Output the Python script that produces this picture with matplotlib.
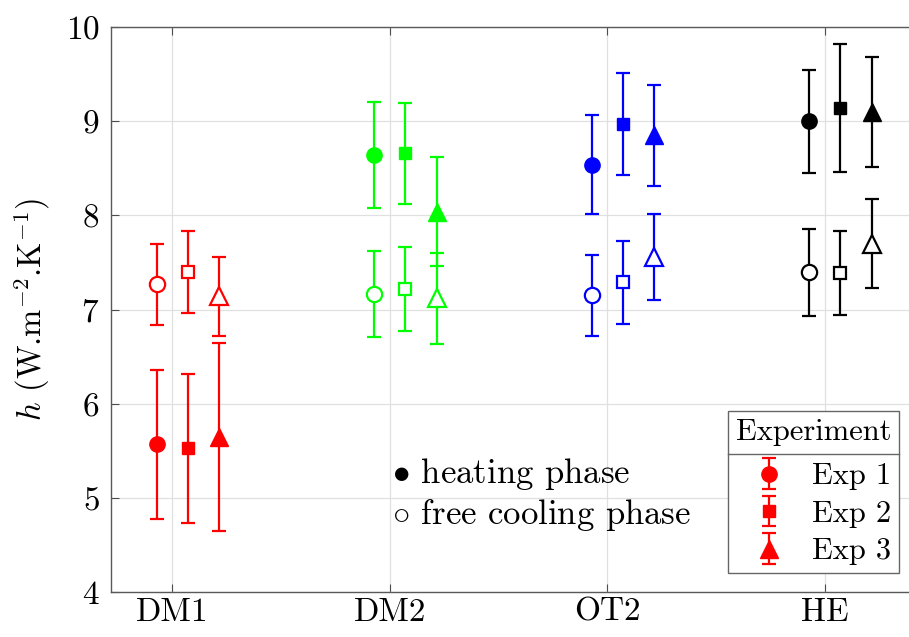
import matplotlib
matplotlib.use("Agg")
import matplotlib.pyplot as plt
from matplotlib.lines import Line2D

plt.rcParams['font.family'] = ['cmr10', 'DejaVu Serif']
plt.rcParams['mathtext.fontset'] = 'cm'
plt.rcParams['axes.formatter.use_mathtext'] = True

categories = ["DM1", "DM2", "OT2", "HE"]
colors = ["#ff0000", "#00ff00", "#0000ff", "#000000"]

# heating phase (mean, error) per experiment, per category
heat_exp1 = [5.57, 8.64, 8.54, 9.00]
heat_exp1_err = [0.79, 0.565, 0.525, 0.545]
heat_exp2 = [5.53, 8.66, 8.97, 9.14]
heat_exp2_err = [0.79, 0.535, 0.54, 0.68]
heat_exp3 = [5.65, 8.04, 8.85, 9.10]
heat_exp3_err = [1.00, 0.575, 0.535, 0.585]

# free cooling phase
cool_exp1 = [7.27, 7.165, 7.155, 7.395]
cool_exp1_err = [0.43, 0.46, 0.43, 0.465]
cool_exp2 = [7.40, 7.22, 7.29, 7.385]
cool_exp2_err = [0.44, 0.45, 0.44, 0.445]
cool_exp3 = [7.14, 7.12, 7.555, 7.70]
cool_exp3_err = [0.42, 0.485, 0.455, 0.47]

exp_labels = ["Exp 1", "Exp 2", "Exp 3"]
offsets = [-0.072, 0.072, 0.216]
markers = ["o", "s", "^"]
msizes = [11, 8.5, 12.5]

W, H = 909, 637
fig = plt.figure(figsize=(W / 100, H / 100), dpi=100)
left, bottom, top = 110.7, 592.3, 27.0
unit = 217.5
xmin, xmax = 0.717, 4.5
ax = fig.add_axes([left / W, (H - bottom) / H, (xmax - xmin) * unit / W, (bottom - top) / H])

heat = [(heat_exp1, heat_exp1_err), (heat_exp2, heat_exp2_err), (heat_exp3, heat_exp3_err)]
cool = [(cool_exp1, cool_exp1_err), (cool_exp2, cool_exp2_err), (cool_exp3, cool_exp3_err)]

legend_handles = []
for ci, cat in enumerate(categories):
    c = colors[ci]
    for ei in range(3):
        x = ci + 1 + offsets[ei]
        hv, he = heat[ei]
        cv, ce = cool[ei]
        h = ax.errorbar([x], [hv[ci]], yerr=[he[ci]], fmt=markers[ei], color=c,
                        ms=msizes[ei], mfc=c, mec=c, elinewidth=1.6, capsize=5,
                        capthick=1.6, zorder=3)
        ax.errorbar([x], [cv[ci]], yerr=[ce[ci]], fmt=markers[ei], color=c,
                    ms=msizes[ei], mfc='white', mec=c, mew=1.6, elinewidth=1.6,
                    capsize=5, capthick=1.6, zorder=3)
        if ci == 0:
            legend_handles.append(h)

ax.set_xlim(xmin, xmax)
ax.set_ylim(4, 10)
ax.set_xticks([1, 2, 3, 4])
ax.set_xticklabels(categories)
ax.set_yticks(range(4, 11))
ax.tick_params(direction='in', top=True, right=True, length=6, width=0.8,
               labelsize=24, color='0.3')
ax.tick_params(axis='x', pad=4)
ax.tick_params(axis='y', pad=8)
ax.grid(True, color='0.88', lw=0.9, zorder=0)
ax.set_axisbelow(True)
for s in ax.spines.values():
    s.set_color('0.35')
    s.set_linewidth(1.0)

ax.set_ylabel(r"$h$ (W.m$^{-2}$.K$^{-1}$)", fontsize=23.5, labelpad=10)

# annotation
ax.text(2.01, 5.26, r"$\bullet$ heating phase", fontsize=25, va='center', ha='left')
ax.text(2.01, 4.82, r"$\circ$ free cooling phase", fontsize=25, va='center', ha='left')

fs = 22
leg = ax.legend(legend_handles, exp_labels, title="Experiment", loc='lower right',
                bbox_to_anchor=(899 / W, (H - 573) / H), bbox_transform=fig.transFigure,
                fontsize=fs, title_fontsize=fs, frameon=True, fancybox=False,
                edgecolor='0.4', framealpha=1, handlelength=2.2, handletextpad=0.3,
                borderpad=0.25, labelspacing=0.33, borderaxespad=0)
leg.get_frame().set_linewidth(1.0)
leg._legend_box.align = "center"
title_sep_pt = 0.33 * fs + 5
leg._legend_box.sep = title_sep_pt

fig.canvas.draw()
r = fig.canvas.get_renderer()
fb = leg.get_frame().get_window_extent(r)
tb = leg.get_title().get_window_extent(r)
ysep = tb.y0 - title_sep_pt * 100 / 72 / 2
fig.add_artist(Line2D([fb.x0 / W, fb.x1 / W], [ysep / H, ysep / H], color='0.4', lw=1.0,
                      transform=fig.transFigure, zorder=10))

fig.savefig("out.png", dpi=100)
